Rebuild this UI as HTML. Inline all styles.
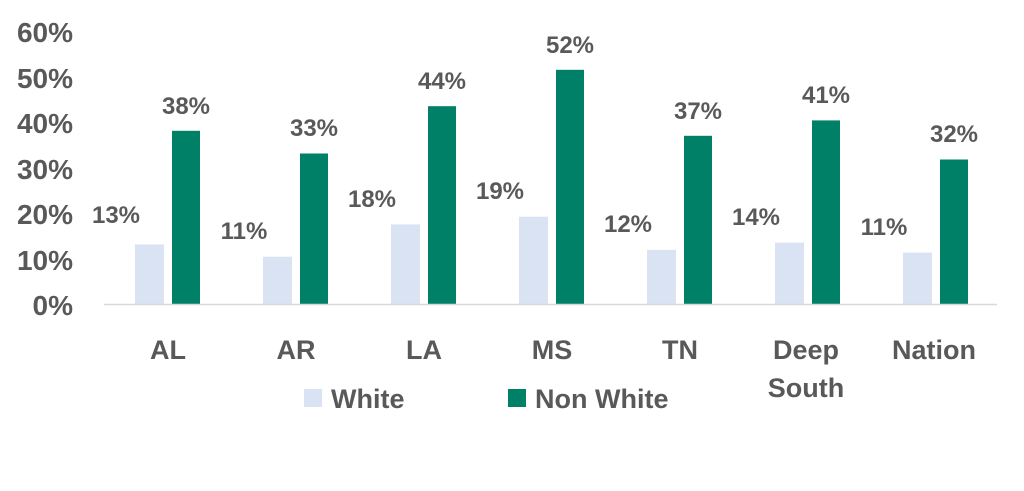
<!DOCTYPE html>
<html><head><style>body{margin:0;background:#fff}svg{display:block}text{font-family:"Liberation Sans",sans-serif;font-weight:bold;fill:#595959}</style></head>
<body>
<svg width="1024" height="491" viewBox="0 0 1024 491">
<g font-size="28" text-anchor="end">
<text x="73" y="42">60%</text>
<text x="73" y="88">50%</text>
<text x="73" y="133">40%</text>
<text x="73" y="179">30%</text>
<text x="73" y="224">20%</text>
<text x="73" y="270">10%</text>
<text x="73" y="315">0%</text>
</g>
<g fill="#dae3f3">
<rect x="135" y="244.4" width="29" height="60.1"/>
<rect x="263" y="256.7" width="29" height="47.8"/>
<rect x="391" y="224.4" width="29" height="80.1"/>
<rect x="519" y="216.7" width="29" height="87.8"/>
<rect x="647" y="249.9" width="29" height="54.6"/>
<rect x="775" y="242.6" width="29" height="61.9"/>
<rect x="903" y="252.6" width="29" height="51.9"/>
</g>
<g fill="#008066">
<rect x="172" y="130.8" width="28" height="173.7"/>
<rect x="300" y="153.5" width="28" height="151"/>
<rect x="428" y="106.2" width="28" height="198.3"/>
<rect x="556" y="69.8" width="28" height="234.7"/>
<rect x="684" y="135.8" width="28" height="168.7"/>
<rect x="812" y="120.4" width="28" height="184.1"/>
<rect x="940" y="159.5" width="28" height="145"/>
</g>
<line x1="104" y1="304.5" x2="997" y2="304.5" stroke="#d9d9d9" stroke-width="1.5"/>
<g font-size="24" text-anchor="middle">
<text x="116" y="223">13%</text>
<text x="244" y="239">11%</text>
<text x="372" y="207">18%</text>
<text x="500" y="199">19%</text>
<text x="628" y="232">12%</text>
<text x="756" y="225">14%</text>
<text x="884" y="235">11%</text>
<text x="186" y="114">38%</text>
<text x="314" y="136">33%</text>
<text x="442" y="89">44%</text>
<text x="570" y="53">52%</text>
<text x="698" y="119">37%</text>
<text x="826" y="103">41%</text>
<text x="954" y="142">32%</text>
</g>
<g font-size="27" text-anchor="middle">
<text x="168" y="359">AL</text>
<text x="296" y="359">AR</text>
<text x="424" y="359">LA</text>
<text x="552" y="359">MS</text>
<text x="680" y="359">TN</text>
<text x="806" y="359">Deep</text>
<text x="806" y="397">South</text>
<text x="934" y="359">Nation</text>
</g>
<rect x="304" y="389" width="18" height="18" fill="#dae3f3"/>
<rect x="508" y="389" width="18" height="18" fill="#008066"/>
<g font-size="27">
<text x="331" y="408">White</text>
<text x="535" y="408">Non White</text>
</g>
</svg>
</body></html>
